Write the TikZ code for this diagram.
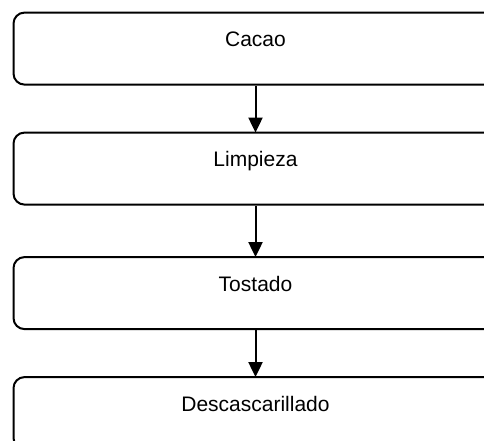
\documentclass[tikz,border=0pt]{standalone}
\usepackage{fontspec}
\setmainfont{Liberation Sans}
\usetikzlibrary{shapes}
\usetikzlibrary {arrows.meta}
\usetikzlibrary {positioning}
\tikzset{caja/.style = {
    shape = rectangle, draw = black, rounded corners = 11pt,
    line width = 2pt, inner sep = 0pt, outer sep = 0pt, minimum width = 484pt,
    text height = 34pt, text depth = 38pt, font = \fontsize{21}{25}\selectfont
}}
\tikzset{flecha/.style = {
        draw = black, line width = 2pt, shorten < = 1pt,
        -{Triangle[width = 14pt, length = 15pt]}
}}

\begin{document}
\begin{tikzpicture}[x=1pt, y=-1pt]
  \useasboundingbox (0,0) rectangle (484,441);
  \fill[white] (0,0) rectangle (484,441);
  \node (cacao) at (255.5,48.6) [caja] {Cacao};
  \node (limpieza) [caja, below = 48pt of cacao] {Limpieza};
  \node (tostado) [caja, below = 52.5pt of limpieza] {Tostado};
  \node (descascarillado) [caja, below = 48pt of tostado] {Descascarillado};
  \draw[flecha] (cacao) -- (limpieza);
  \draw[flecha] (limpieza) -- (tostado);
  \draw[flecha] (tostado) -- (descascarillado);
\end{tikzpicture}
\end{document}
